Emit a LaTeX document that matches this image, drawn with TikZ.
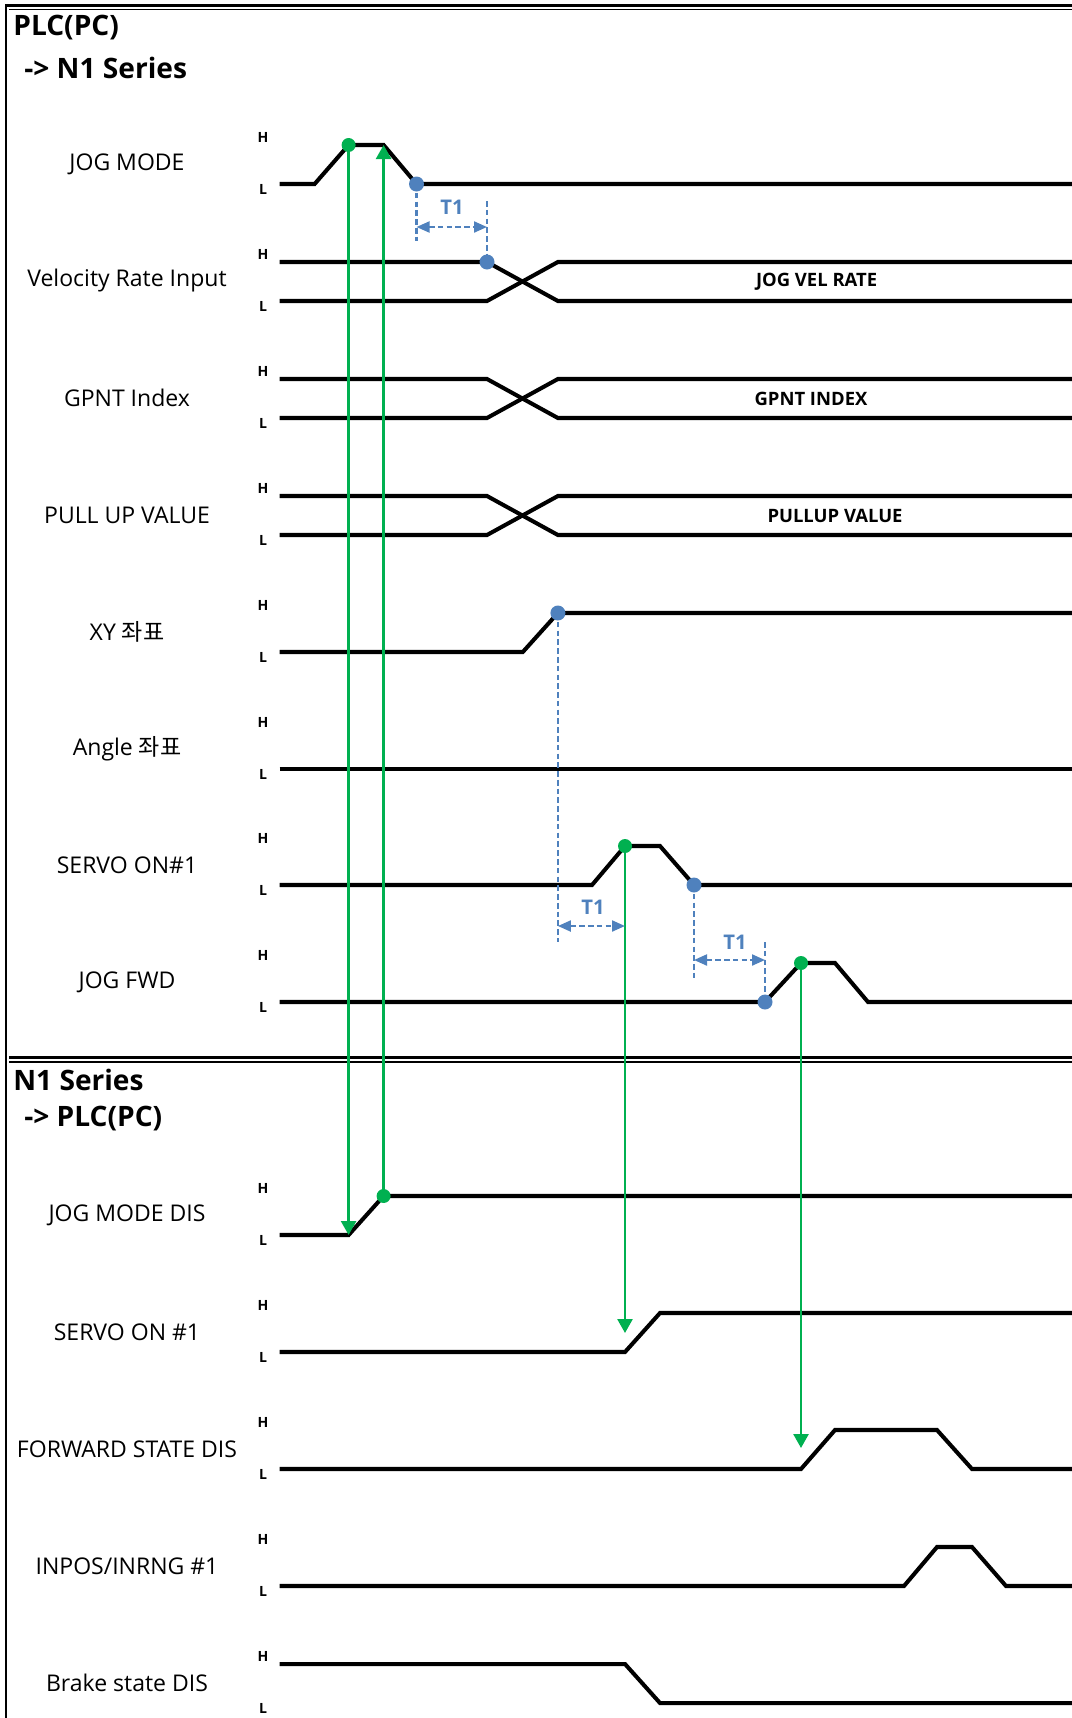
\documentclass[tikz,border=0pt]{standalone}
\usepackage{fontspec}
\setmainfont{Open Sans}
\newfontfamily\krfont{Noto Sans CJK KR}
\usetikzlibrary{arrows.meta,calc}
\definecolor{SigGreen}{HTML}{00B050}
\definecolor{SigBlue}{HTML}{4F81BD}

\begin{document}
\begin{tikzpicture}[x=0.02cm,y=-0.02cm,
    sig/.style={line width=2.3pt},
    rowtxt/.style={font=\fontsize{13.1}{14}\selectfont,inner sep=0pt},
    lvl/.style={font=\bfseries\fontsize{8}{9}\selectfont,inner sep=0pt},
    title/.style={font=\bfseries\fontsize{16}{18}\selectfont,anchor=west,inner sep=0pt},
    bustxt/.style={font=\bfseries\fontsize{10.5}{12}\selectfont,inner sep=0pt},
    gline/.style={SigGreen,line width=1.5pt,-{Triangle[width=0.3cm,length=0.28cm]}},
    gdot/.style={circle,fill=SigGreen,inner sep=0pt,minimum size=0.28cm},
    bdot/.style={circle,fill=SigBlue,inner sep=0pt,minimum size=0.3cm},
    tdash/.style={SigBlue,line width=1.2pt,dash pattern=on 3.2pt off 1.8pt},
    tarrow/.style={tdash,{Triangle[width=0.22cm,length=0.26cm]}-{Triangle[width=0.22cm,length=0.26cm]}},
    tlabel/.style={SigBlue,font=\bfseries\fontsize{11.5}{13}\selectfont,inner sep=0pt}]
  \useasboundingbox (0,0) rectangle (1072,1718);

  % frame
  \draw[line width=1.4pt] (5,5.5) -- (1072,5.5);
  \draw[line width=0.6pt] (9,9.5) -- (1072,9.5);
  \draw[line width=1.4pt] (6,4.3) -- (6,1718);
  \draw[line width=1.7pt] (9,1057.5) -- (1072,1057.5);
  \draw[line width=1.1pt] (9,1061.7) -- (1072,1061.7);

  \node[title] (src1) at (13,28) {PLC(PC)};
  \node[title] (dst1) at (24,68) {-> N1 Series};
  \node[title] (src2) at (13,1080) {N1 Series};
  \node[title] (dst2) at (24,1119) {-> PLC(PC)};

  % signal names and H/L marks
  \foreach \y/\txt [count=\i] in {184/JOG MODE,301/Velocity Rate Input,418/GPNT Index,
      535/PULL UP VALUE,652/XY {\krfont 좌표},769/Angle {\krfont 좌표},885/SERVO ON\#1,1002/JOG FWD,
      1235/JOG MODE DIS,1352/SERVO ON \#1,1469/FORWARD STATE DIS,1586/{INPOS/INRNG \#1},1703/Brake state DIS}{
    \node[rowtxt] (row\i) at (127,\y-20) {\txt};
    \node[lvl] (hi\i) at (263,\y-47) {H};
    \node[lvl] (lo\i) at (263,\y+5) {L};
  }

  % PLC -> N1
  \draw[sig] (279.5,184) -- (314.6,184) -- (348.6,145) coordinate (jm-on) -- (383.6,145) coordinate (jm-ack)
    -- (416.5,184) coordinate (jm-off) -- (1072,184);
  \draw[sig] (279.5,262) -- (487,262) coordinate (vr-in) -- (557.9,301) -- (1072,301);
  \draw[sig] (279.5,301) -- (487,301) -- (557.9,262) -- (1072,262);
  \node[bustxt] (vr-txt) at (816.6,281.5) {JOG VEL RATE};
  \draw[sig] (279.5,379) -- (487,379) -- (557.9,418) -- (1072,418);
  \draw[sig] (279.5,418) -- (487,418) -- (557.9,379) -- (1072,379);
  \node[bustxt] (gp-txt) at (811,398.5) {GPNT INDEX};
  \draw[sig] (279.5,496) -- (487,496) -- (557.9,535) -- (1072,535);
  \draw[sig] (279.5,535) -- (487,535) -- (557.9,496) -- (1072,496);
  \node[bustxt] (pu-txt) at (835,515.5) {PULLUP VALUE};
  \draw[sig] (279.5,652) -- (522.8,652) -- (557.9,613) coordinate (xy-on) -- (1072,613);
  \draw[sig] (279.5,769) -- (1072,769);
  \draw[sig] (279.5,885) -- (592,885) -- (625,846) coordinate (sv-on) -- (660,846)
    -- (694,885) coordinate (sv-off) -- (1072,885);
  \draw[sig] (279.5,1002) -- (765,1002) coordinate (jf-in) -- (801,963) coordinate (jf-on)
    -- (835,963) -- (868,1002) -- (1072,1002);

  % N1 -> PLC
  \draw[sig] (279.5,1235) -- (348.6,1235) coordinate (jmd-in) -- (383.6,1196) coordinate (jmd-on) -- (1072,1196);
  \draw[sig] (279.5,1352) -- (625,1352) -- (660,1313) -- (1072,1313);
  \draw[sig] (279.5,1469) -- (801,1469) -- (835,1430) -- (937,1430) -- (972,1469) -- (1072,1469);
  \draw[sig] (279.5,1586) -- (904,1586) -- (937,1547) -- (972,1547) -- (1006,1586) -- (1072,1586);
  \draw[sig] (279.5,1664) -- (625,1664) -- (660,1703) -- (1072,1703);

  % handshake arrows
  \coordinate (svd-tip) at (625,1333);
  \coordinate (fwd-tip) at (801,1448);
  \draw[gline] (jm-on) -- (jmd-in);
  \draw[gline] (jmd-on) -- (jm-ack);
  \draw[gline] (sv-on) -- (svd-tip);
  \draw[gline] (jf-on) -- (fwd-tip);

  % T1 delays
  \coordinate (t1a-end) at (416.5,241);
  \coordinate (t1a-top) at (487,201);
  \coordinate (t1a-a) at (416.5,227);
  \coordinate (t1a-b) at (487,227);
  \draw[tdash] (jm-off) -- (t1a-end);
  \draw[tdash] (t1a-top) -- (vr-in);
  \draw[tarrow] (t1a-a) -- (t1a-b);
  \node[tlabel] (t1a) at (452,207) {T1};

  \coordinate (t1b-end) at (557.9,942);
  \coordinate (t1b-a) at (557.9,926);
  \coordinate (t1b-b) at (625,926);
  \draw[tdash] (xy-on) -- (t1b-end);
  \draw[tarrow] (t1b-a) -- (t1b-b);
  \node[tlabel] (t1b) at (593,907) {T1};

  \coordinate (t1c-end) at (694,980);
  \coordinate (t1c-top) at (765,942);
  \coordinate (t1c-a) at (694,960);
  \coordinate (t1c-b) at (765,960);
  \draw[tdash] (sv-off) -- (t1c-end);
  \draw[tdash] (t1c-top) -- (jf-in);
  \draw[tarrow] (t1c-a) -- (t1c-b);
  \node[tlabel] (t1c) at (735,942) {T1};

  % event dots
  \foreach \p in {jm-on,jmd-on,sv-on,jf-on}
    \node[gdot] (\p-dot) at (\p) {};
  \foreach \p in {jm-off,vr-in,xy-on,sv-off,jf-in}
    \node[bdot] (\p-dot) at (\p) {};
\end{tikzpicture}
\end{document}
